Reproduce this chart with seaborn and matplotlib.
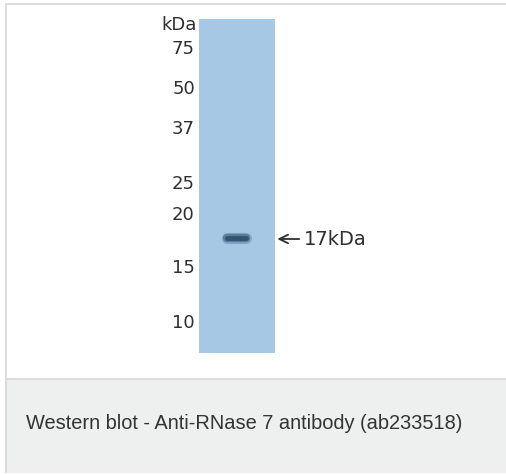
import matplotlib.pyplot as plt
import matplotlib.patches as mpatches
import matplotlib.transforms as mtransforms
import seaborn as sns

# ladder markers (kDa) and their migration row in the picture
marker_kda = [75, 50, 37, 25, 20, 15, 10]
marker_pos = [47, 87, 127, 182, 213, 266, 321]

# detected band
band_kda = 17
band_pos = 238
band_x = [0.37, 0.62]   # span across the lane (lane fraction)

caption = "Western blot - Anti-RNase 7 antibody (ab233518)"

sns.set_theme(style="white")
plt.rcParams['font.family'] = ['Liberation Sans', 'DejaVu Sans']

W, H = 506, 474
# small epsilon so the pixel width does not round down to 505
fig = plt.figure(figsize=(W / 100 + 1e-4, H / 100 + 1e-4), dpi=100)
fig.patch.set_facecolor('white')

# page frame + caption box, drawn in pixel units
bg = fig.add_axes([0, 0, 1, 1])
bg.set_xlim(0, W)
bg.set_ylim(H, 0)
bg.set_axis_off()
bg.add_patch(mpatches.Rectangle((5, 380), W, 93, facecolor='#eeefef', edgecolor='none'))
bg.add_patch(mpatches.Rectangle((5, 3), W, 2, facecolor='#dcdcdc', edgecolor='none'))
bg.add_patch(mpatches.Rectangle((5, 3), 2, 470, facecolor='#dcdcdc', edgecolor='none'))
bg.add_patch(mpatches.Rectangle((5, 378), W, 2, facecolor='#dcdcdc', edgecolor='none'))
bg.text(26, 423, caption, fontsize=14.4, color='#333333', ha='left', va='center')

# blot lane: y axis is migration row
top, bottom = 19, 353
ax = fig.add_axes([199 / W, 1 - bottom / H, 76 / W, (bottom - top) / H])
ax.set_facecolor('#a6c8e5')
ax.set_xlim(0, 1)
ax.set_ylim(bottom, top)
for s in ax.spines.values():
    s.set_visible(False)

# band: soft halo, body, dark core
for lw, col in [(8, '#86a6c6'), (6, '#5a7a9e'), (3.5, '#36536f')]:
    sns.lineplot(x=band_x, y=[band_pos] * len(band_x), color=col, linewidth=lw,
                 solid_capstyle='round', ax=ax)

ax.set_xticks([])
ax.set_yticks(marker_pos, labels=[str(k) for k in marker_kda])
ax.tick_params(axis='y', length=0, pad=3, labelsize=13, labelcolor='#2e2e2e')
for lab in ax.get_yticklabels():
    lab.set_family('DejaVu Sans')
ax.set_xlabel('')
ax.set_ylabel('')

trans = mtransforms.blended_transform_factory(ax.transAxes, ax.transData)
ax.text(-0.03, 25, 'kDa', transform=trans, ha='right', va='center',
        fontsize=13, color='#2e2e2e', family='DejaVu Sans')
ax.annotate(f'{band_kda}kDa', xy=(1.03, band_pos + 1), xycoords=trans,
            xytext=(1.38, band_pos + 1), textcoords=trans,
            ha='left', va='center', fontsize=14, color='#2e2e2e', family='DejaVu Sans',
            arrowprops=dict(arrowstyle='->,head_length=0.45,head_width=0.22',
                            color='#2e2e2e', lw=1.3, shrinkA=1, shrinkB=0),
            annotation_clip=False)

fig.savefig('out.png', dpi=100)
